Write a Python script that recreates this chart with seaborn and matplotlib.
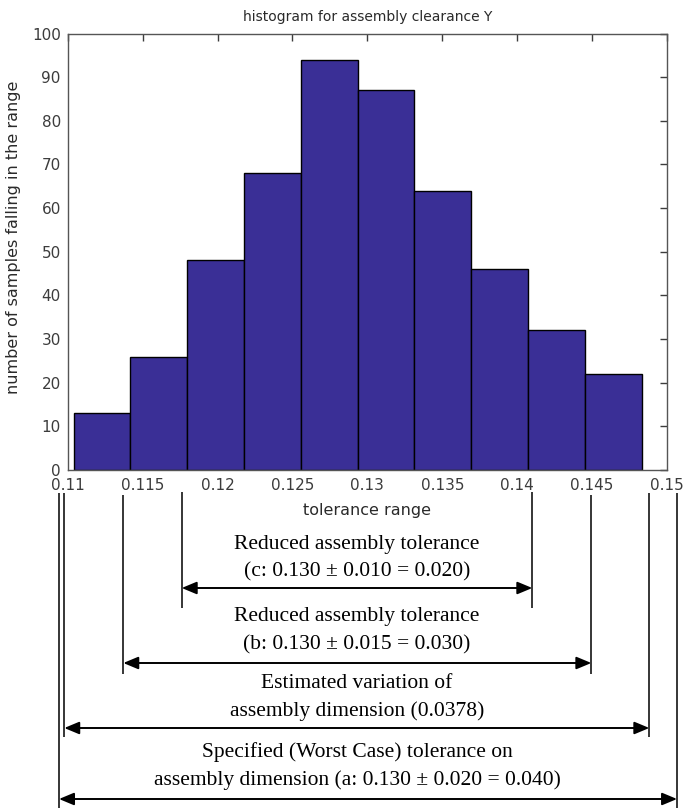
import numpy as np
import pandas as pd
import matplotlib
matplotlib.use("Agg")
import matplotlib.pyplot as plt
import matplotlib.transforms as mtransforms
from matplotlib.patches import ArrowStyle
import seaborn as sns

# ---------------- data ----------------
counts = [13, 26, 48, 68, 94, 87, 64, 46, 32, 22]
bin_start = 0.1104
bin_width = 0.00379
x_ticks = [0.11, 0.115, 0.12, 0.125, 0.13, 0.135, 0.14, 0.145, 0.15]
x_tick_labels = ["0.11", "0.115", "0.12", "0.125", "0.13", "0.135", "0.14", "0.145", "0.15"]
y_ticks = [0, 10, 20, 30, 40, 50, 60, 70, 80, 90, 100]

title = "histogram for assembly clearance Y"
x_label = "tolerance range"
y_label = "number of samples falling in the range"

# annotation dimension lines (x extents in data units as drawn)
dim_names = ["c", "b", "est", "spec"]
dim_left = [0.11761, 0.11371, 0.10977, 0.10942]
dim_right = [0.14101, 0.14495, 0.14882, 0.15067]
dim_text = [
    ["Reduced assembly tolerance", "(c: 0.130 \u00b1 0.010 = 0.020)"],
    ["Reduced assembly tolerance", "(b: 0.130 \u00b1 0.015 = 0.030)"],
    ["Estimated variation of", "assembly dimension (0.0378)"],
    ["Specified (Worst Case) tolerance on", "assembly dimension (a: 0.130 \u00b1 0.020 = 0.040)"],
]

# ---------------- layout (pixels) ----------------
W, H = 687, 808
line_top_px = [492, 495, 493, 493]
line_bot_px = [608, 674, 737, 808]
arrow_px = [588, 663, 728, 799]
text_px = [[544, 572], [617, 645], [683, 711], [752, 780]]
text_center_x = 0.12931

edges = [bin_start + bin_width * k for k in range(len(counts) + 1)]
centers = [e + bin_width / 2 for e in edges[:-1]]
df = pd.DataFrame({"x": centers, "n": counts})

sns.set_style("white")
plt.rcParams["font.family"] = ["DejaVu Sans"]

fig = plt.figure(figsize=(W / 100, H / 100), dpi=100)
ax = fig.add_axes([67.7 / W, 1 - 470 / H, (667 - 67.7) / W, (470 - 33.5) / H])

sns.histplot(data=df, x="x", weights="n", bins=edges, color="#3A2F96",
             edgecolor="black", linewidth=1.0, alpha=1.0, ax=ax)

ax.set_xlim(0.11, 0.15)
ax.set_ylim(0, 100)
ax.set_xticks(x_ticks)
ax.set_xticklabels(x_tick_labels)
ax.set_yticks(y_ticks)
grey = "#3c3c3c"
ax.tick_params(axis="both", direction="in", length=5, width=1, colors=grey,
               labelsize=11, top=True, right=True, pad=5)
ax.tick_params(axis="x", pad=6)
for s in ax.spines.values():
    s.set_color("#555555")
    s.set_linewidth(1.0)
ax.set_title(title, fontsize=10, color="#2a2a2a", pad=9)
ax.set_xlabel(x_label, fontsize=11.5, color="#2a2a2a", labelpad=7)
ax.set_ylabel(y_label, fontsize=11.5, color="#2a2a2a")
ax.yaxis.set_label_coords(-0.0779, 0.534)

trans = mtransforms.blended_transform_factory(ax.transData, fig.transFigure)

def fy(py):
    return 1 - py / H

astyle = ArrowStyle("<|-|>", head_length=0.6, head_width=0.25)
serif = ["Liberation Serif", "DejaVu Serif"]
for i in range(len(dim_names)):
    for xv in (dim_left[i], dim_right[i]):
        ax.plot([xv, xv], [fy(line_top_px[i]), fy(line_bot_px[i])], transform=trans,
                color="black", lw=1.1, clip_on=False, solid_capstyle="butt")
    ax.annotate("", xy=(dim_right[i], fy(arrow_px[i])), xytext=(dim_left[i], fy(arrow_px[i])),
                xycoords=trans, textcoords=trans, annotation_clip=False,
                arrowprops=dict(arrowstyle=astyle, color="black", lw=1.4,
                                mutation_scale=15, shrinkA=0, shrinkB=0))
    for j, line in enumerate(dim_text[i]):
        ax.text(text_center_x, fy(text_px[i][j]), line, transform=trans,
                ha="center", va="center", fontsize=15.5, family=serif, color="black")

fig.savefig("out.png", dpi=100)
